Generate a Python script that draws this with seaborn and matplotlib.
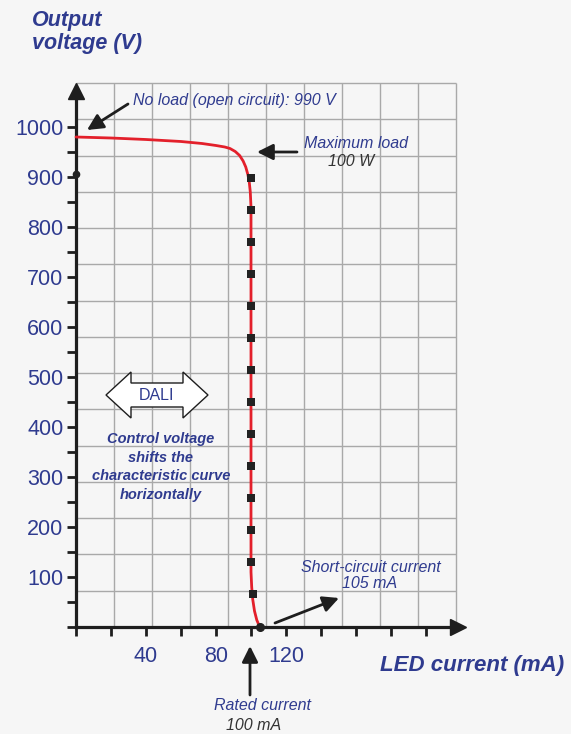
import numpy as np
import matplotlib
matplotlib.use("Agg")
import matplotlib.pyplot as plt
import matplotlib.patches as mpatches
import seaborn as sns
import pandas as pd

# curve (LED current in mA, output voltage in V)
curve_ma = [0, 20, 40, 60, 72, 80, 85, 88, 91, 93.5, 95.5, 97, 98.2, 99, 99.6, 100, 100, 100, 100.4, 101, 102, 103.3, 105]
curve_v = [980, 978, 975, 971, 967, 963, 960, 957, 951, 943, 932, 920, 905, 890, 870, 840, 400, 110, 80, 55, 32, 14, 0]

# square markers along the rated-current line
marker_ma = [100, 100, 100, 100, 100, 100, 100, 100, 100, 100, 100, 100, 100, 101]
marker_v = [898, 834, 770, 706, 642, 578, 514, 450, 386, 322, 258, 194, 130, 66]

y_ticks = list(range(0, 1001, 50))
y_labels = [str(v) if v % 100 == 0 and v > 0 else "" for v in y_ticks]
x_ticks = list(range(0, 201, 20))
x_labels = [str(v) if v in (40, 80, 120) else "" for v in x_ticks]

BLUE = "#2f3b8f"
DARK = "#333333"
BG = "#f6f6f6"

sns.set_style("white", {"axes.facecolor": BG, "figure.facecolor": BG})
plt.rcParams["font.family"] = ["Liberation Sans", "DejaVu Sans"]

fig = plt.figure(figsize=(5.71, 7.34), dpi=100)
ax = fig.add_axes([0, 0, 1, 1])
ax.set_facecolor(BG)

# axes limits so that 1 mA = 1.75 px and 1 V = 0.5 px, origin at (76, 627) px
x0, y0 = 76, 627
ax.set_xlim((0 - x0) / 1.75, (571 - x0) / 1.75)
ax.set_ylim((y0 - 734) * 2, (y0 - 0) * 2)


def px(x, y):
    return (x - x0) / 1.75, (y0 - y) * 2


# background grid (not aligned with the ticks in the original)
gx = np.linspace(0, 217, 11)
gy = np.linspace(0, 1088, 16)
ax.vlines(gx, 0, 1088, color="#a9a9a9", lw=1.0, zorder=1)
ax.hlines(gy, 0, 217, color="#a9a9a9", lw=1.0, zorder=1)

# axes lines with arrow heads
for s in ["top", "right"]:
    ax.spines[s].set_visible(False)
ax.spines["left"].set_position(("data", 0))
ax.spines["bottom"].set_position(("data", 0))
ax.spines["left"].set_bounds(0, 1075)
ax.spines["bottom"].set_bounds(0, 216)
for s in ["left", "bottom"]:
    ax.spines[s].set_linewidth(2.3)
    ax.spines[s].set_color("#1e1e1e")
    ax.spines[s].set_zorder(4)
ax.plot([0], [1072], marker="^", ms=11, color="#1e1e1e", clip_on=False, zorder=5)
ax.plot([218], [0], marker=">", ms=11, color="#1e1e1e", clip_on=False, zorder=5)

ax.set_yticks(y_ticks)
ax.set_yticklabels(y_labels)
ax.set_xticks(x_ticks)
ax.set_xticklabels(x_labels)
ax.tick_params(axis="both", direction="out", length=6.5, width=2, color="#1e1e1e",
               labelsize=15.5, labelcolor=BLUE, bottom=True, left=True)
ax.tick_params(axis="y", pad=2.5)
ax.tick_params(axis="x", pad=7)

# characteristic curve
df_curve = pd.DataFrame({"ma": curve_ma, "v": curve_v})
sns.lineplot(data=df_curve, x="ma", y="v", sort=False, estimator=None,
             color="#e3202b", lw=2.0, ax=ax, zorder=6)

df_mark = pd.DataFrame({"ma": marker_ma, "v": marker_v})
sns.scatterplot(data=df_mark, x="ma", y="v", marker="s", s=34, color="#222222",
                edgecolor="none", ax=ax, zorder=7)
ax.plot([105], [0], "o", ms=5.5, color="#222222", zorder=8, clip_on=False)
ax.plot([0], [906], "o", ms=4.5, color="#222222", zorder=8)
ax.set_xlabel("")
ax.set_ylabel("")

# titles
ax.text(*px(32, 10), "Output\nvoltage (V)", ha="left", va="top", fontsize=15.5,
        fontweight="bold", fontstyle="italic", color=BLUE, linespacing=1.15)
ax.text(*px(380, 665), "LED current (mA)", ha="left", va="center", fontsize=16,
        fontweight="bold", fontstyle="italic", color=BLUE)

# annotations
arrow = dict(arrowstyle="-|>,head_length=0.6,head_width=0.3", mutation_scale=16,
             lw=2, color="#1e1e1e", shrinkA=0, shrinkB=0)
ax.text(*px(133, 101), "No load (open circuit): 990 V", ha="left", va="center",
        fontsize=11.5, fontstyle="italic", color=BLUE)
ax.annotate("", xy=px(87, 130), xytext=px(128, 104), arrowprops=arrow)

ax.text(*px(356, 143), "Maximum load", ha="center", va="center",
        fontsize=11.5, fontstyle="italic", color=BLUE)
ax.text(*px(351, 162), "100 W", ha="center", va="center",
        fontsize=11.5, fontstyle="italic", color=DARK)
ax.annotate("", xy=px(257, 152), xytext=px(297, 152), arrowprops=arrow)

ax.text(*px(371, 567), "Short-circuit current", ha="center", va="center",
        fontsize=11.5, fontstyle="italic", color=BLUE)
ax.text(*px(370, 584), "105 mA", ha="center", va="center",
        fontsize=11.5, fontstyle="italic", color=BLUE)
ax.annotate("", xy=px(339, 598), xytext=px(275, 623), arrowprops=arrow)

ax.text(*px(262, 705), "Rated current", ha="center", va="center",
        fontsize=11.5, fontstyle="italic", color=BLUE)
ax.text(*px(254, 726), "100 mA", ha="center", va="center",
        fontsize=11.5, fontstyle="italic", color=DARK)
ax.annotate("", xy=px(250, 646), xytext=px(250, 695), arrowprops=arrow)

# DALI double arrow outline: centre, half length, head length, half heights (px)
cx, cy, hw, hl, sh, hh = 157, 395, 51, 25, 12, 23
dali_px = [(cx - hw, cy), (cx - hw + hl, cy - hh), (cx - hw + hl, cy - sh),
           (cx + hw - hl, cy - sh), (cx + hw - hl, cy - hh), (cx + hw, cy),
           (cx + hw - hl, cy + hh), (cx + hw - hl, cy + sh), (cx - hw + hl, cy + sh),
           (cx - hw + hl, cy + hh)]
ax.add_patch(mpatches.Polygon([px(a, b) for a, b in dali_px], closed=True,
                              fc="white", ec="#1e1e1e", lw=1.0, zorder=5))
ax.text(*px(157, 396), "DALI", ha="center", va="center", fontsize=11.5,
        color=BLUE, zorder=6)
ax.text(*px(161, 467), "Control voltage\nshifts the\ncharacteristic curve\nhorizontally",
        ha="center", va="center", fontsize=10.5, fontweight="bold", fontstyle="italic",
        color=BLUE, linespacing=1.4, zorder=6)

fig.savefig("out.png", dpi=100, facecolor=BG)
